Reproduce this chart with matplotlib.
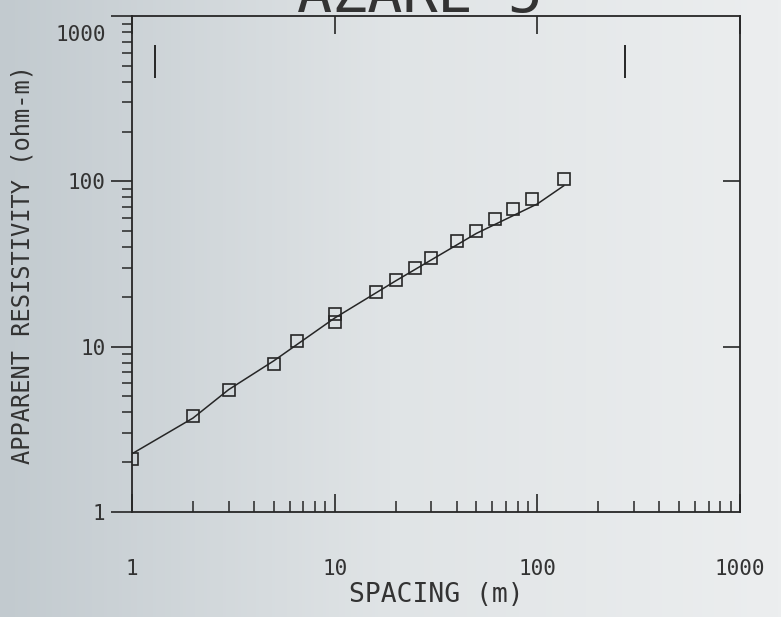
import numpy as np
import matplotlib
matplotlib.use("Agg")
import matplotlib.pyplot as plt
from matplotlib.ticker import LogLocator, NullFormatter, FixedLocator
from matplotlib.transforms import ScaledTranslation

# sounding data
spacing = [1, 2, 3, 5, 6.5, 10, 10, 16, 20, 25, 30, 40, 50, 62, 76, 94, 135]
rho_app = [2.1, 3.8, 5.5, 7.9, 10.8, 15.7, 14.1, 21.4, 25.4, 29.9, 34.3,
           43.6, 50.4, 59.2, 67.9, 78.2, 104]

# fitted model curve
model_x = [1, 2, 3, 5, 10, 20, 30, 50, 100, 135]
model_y = [2.25, 3.7, 5.5, 8.2, 14.9, 25, 33.5, 48.4, 73, 94]

# the two short vertical marks near the top
mark_x = [1.3, 270]
mark_y = [420, 670]

x_ticks = [1, 10, 100, 1000]
y_ticks = [1, 10, 100, 1000]
title = "AZARE 5"

ink = "#262626"
txt = "#333333"
font = "DejaVu Sans Mono"

fig = plt.figure(figsize=(7.81, 6.17), dpi=100)

# photo-like paper background, darker on the left
bg = fig.add_axes([0, 0, 1, 1], zorder=-1)
grad = np.linspace(0, 1, 256)[None, :]
bg.imshow(grad, aspect="auto", cmap=matplotlib.colors.LinearSegmentedColormap.from_list(
    "paper", ["#c2cacf", "#e0e4e6", "#eceeef"]), extent=[0, 1, 0, 1])
bg.axis("off")

ax = fig.add_axes([132 / 781, 1 - 512 / 617, 608 / 781, 496 / 617])
ax.set_facecolor("none")
ax.set_xscale("log")
ax.set_yscale("log")
ax.set_xlim(1, 1000)
ax.set_ylim(1, 1000)

ax.plot(model_x, model_y, color=ink, lw=1.1)
ax.plot(spacing, rho_app, ls="none", marker="s", ms=8, mfc="none",
        mec=ink, mew=1.2)
ax.vlines(mark_x, mark_y[0], mark_y[1], color=ink, lw=1.4)

for s in ax.spines.values():
    s.set_color(ink)
    s.set_linewidth(1.3)

# x axis: inward ticks, minors only on the bottom
ax.xaxis.set_major_locator(FixedLocator(x_ticks))
ax.xaxis.set_minor_locator(LogLocator(base=10, subs=np.arange(2, 10)))
ax.xaxis.set_minor_formatter(NullFormatter())
ax.set_xticklabels([str(v) for v in x_ticks], family=font, fontsize=15, color=txt)
ax.tick_params(axis="x", which="major", direction="in", length=13, width=1.2,
               top=True, pad=34, colors=ink, labelcolor=txt)
ax.tick_params(axis="x", which="minor", direction="in", length=8, width=1.1,
               top=False, colors=ink)

# y axis: outward ticks on the left
ax.yaxis.set_major_locator(FixedLocator(y_ticks))
ax.yaxis.set_minor_locator(LogLocator(base=10, subs=np.arange(2, 10)))
ax.yaxis.set_minor_formatter(NullFormatter())
ax.set_yticklabels([str(v) for v in y_ticks], family=font, fontsize=15, color=txt)
ax.tick_params(axis="y", which="major", direction="out", length=15, width=1.2,
               pad=4, colors=ink, labelcolor=txt)
ax.tick_params(axis="y", which="minor", direction="out", length=7, width=1.1, colors=ink)
# the top label sits a little below its tick
top_lab = ax.get_yticklabels()[-1]
top_lab.set_transform(top_lab.get_transform() + ScaledTranslation(0, -0.17, fig.dpi_scale_trans))

# right side: only inward ticks at 10 and 100
sec = ax.secondary_yaxis("right")
sec.set_yticks([10, 100])
sec.yaxis.set_minor_locator(FixedLocator([]))
sec.tick_params(direction="in", length=12, width=1.2, labelright=False, colors=ink)
sec.spines["right"].set_visible(False)

ax.set_xlabel("SPACING (m)", family=font, fontsize=19, color=txt, labelpad=2)
ax.set_ylabel("APPARENT RESISTIVITY (ohm-m)", family=font, fontsize=17, color=txt)
ax.yaxis.set_label_coords(-0.16, 0.5)

fig.text(0.538, 1 - 12 / 617, title, ha="center", va="baseline",
         family=font, fontsize=42, color=txt)

fig.savefig("out.png", dpi=100)
